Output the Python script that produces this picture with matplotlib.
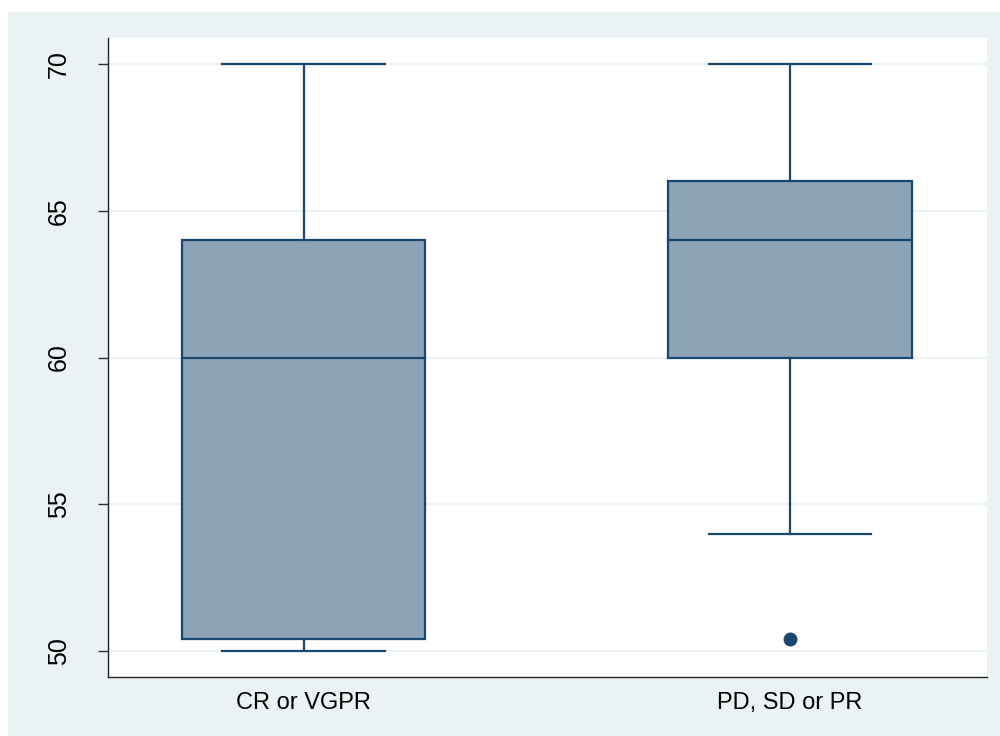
import matplotlib
matplotlib.use("Agg")
import matplotlib.pyplot as plt
from matplotlib.patches import Rectangle

categories = ["CR or VGPR", "PD, SD or PR"]
whislo = [50.0, 54.0]
q1 = [50.4, 60.0]
med = [60.0, 64.0]
q3 = [64.0, 66.0]
whishi = [70.0, 70.0]
outliers = [[], [50.4]]
yticks = [50, 55, 60, 65, 70]

plt.rcParams['font.family'] = ['Liberation Sans', 'DejaVu Sans']

W, H = 1000, 736
fig = plt.figure(figsize=(W / 100, H / 100), dpi=100)
fig.patch.set_facecolor('white')
bg = '#EAF2F3'
fig.patches.append(Rectangle((8 / W, 0), 1 - 8 / W, 1 - 12 / H, transform=fig.transFigure,
                             facecolor=bg, edgecolor='none', zorder=-10))

ax = fig.add_axes([108 / W, 1 - 677 / H, (987 - 108) / W, (677 - 38) / H])
ax.set_facecolor('white')

navy = '#1A476F'
fill = '#8DA3B8'
stats = []
for i in range(len(categories)):
    stats.append(dict(label=categories[i], whislo=whislo[i], q1=q1[i], med=med[i],
                      q3=q3[i], whishi=whishi[i], fliers=outliers[i]))

ax.bxp(stats, positions=[1, 2], widths=0.5, patch_artist=True, showfliers=True,
       boxprops=dict(facecolor=fill, edgecolor=navy, linewidth=1.6),
       medianprops=dict(color=navy, linewidth=1.6),
       whiskerprops=dict(color=navy, linewidth=1.6),
       capprops=dict(color=navy, linewidth=1.6),
       capwidths=0.335,
       flierprops=dict(marker='o', markerfacecolor=navy, markeredgecolor=navy, markersize=9),
       zorder=3)

ax.set_xlim(0.598, 2.405)
ax.set_ylim(49.114, 70.886)
ax.set_yticks(yticks)
ax.set_yticklabels([str(t) for t in yticks], rotation=90, va='center', fontsize=18)
ax.tick_params(axis='y', length=7.5, width=1, pad=19, color='#333333')
ax.tick_params(axis='x', length=0, pad=11, labelsize=17)
ax.grid(axis='y', color=bg, linewidth=1.5, zorder=0)
ax.set_axisbelow(True)
for s in ['top', 'right']:
    ax.spines[s].set_visible(False)
for s in ['left', 'bottom']:
    ax.spines[s].set_color('#222222')
    ax.spines[s].set_linewidth(1)

fig.savefig('out.png', dpi=100)
